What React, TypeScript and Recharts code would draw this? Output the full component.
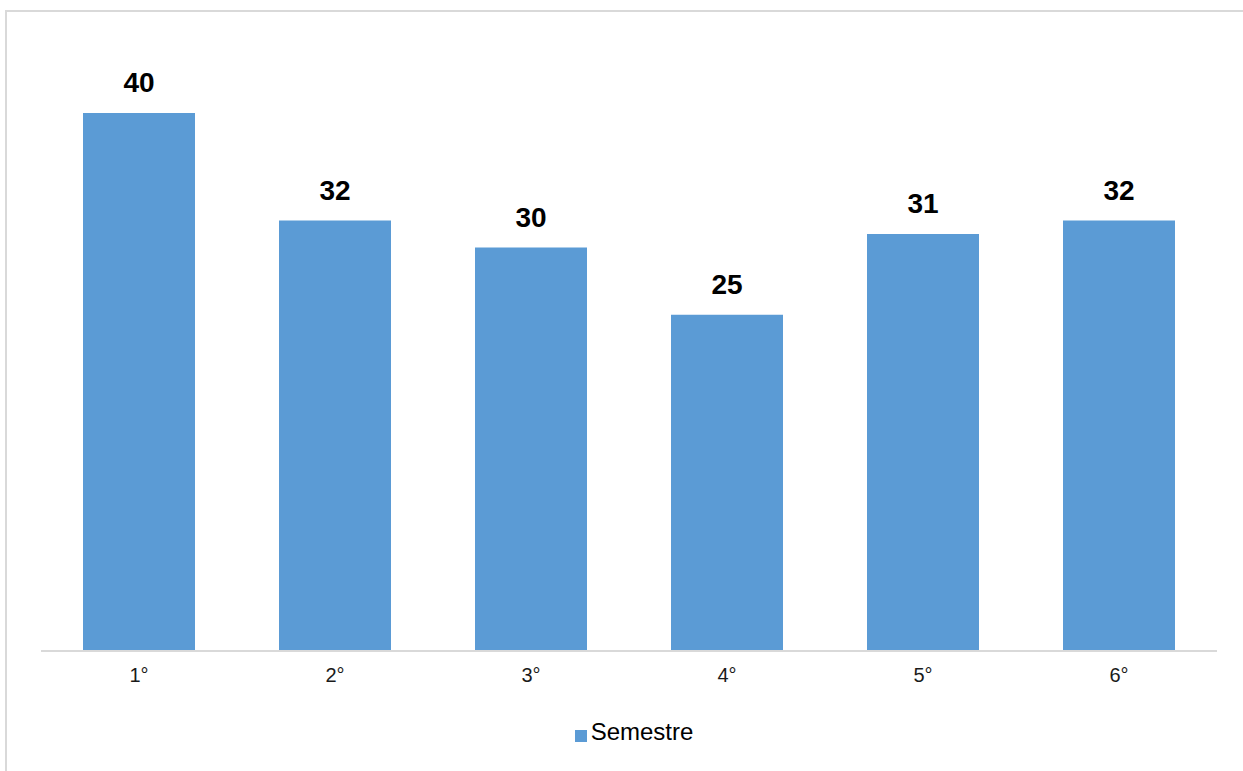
import { BarChart, Bar, XAxis, YAxis, Legend, LabelList } from "recharts";

const semesters = ["1°", "2°", "3°", "4°", "5°", "6°"];
const counts = [40, 32, 30, 25, 31, 32];

const rows = semesters.map((s, i) => ({ semester: s, Semestre: counts[i] }));

const FONT = '"Liberation Sans", Arial, sans-serif';

function SemesterTick(props: any) {
  const { x, y, payload } = props;
  return (
    <text
      x={x}
      y={y + 25}
      textAnchor="middle"
      fill="#1a1a1a"
      fontSize={20}
      fontFamily={FONT}
    >
      {payload.value}
    </text>
  );
}

export default function App() {
  return (
    <div
      style={{
        position: "fixed",
        left: 0,
        top: 0,
        width: 1243,
        height: 771,
        overflow: "hidden",
        background: "#fff",
        fontFamily: FONT,
      }}
    >
      <div
        style={{
          position: "absolute",
          left: 5,
          top: 10,
          width: 1300,
          height: 900,
          border: "2px solid #d9d9d9",
        }}
      />
      <div style={{ position: "absolute", left: 0, top: 0 }}>
        <BarChart
          width={1243}
          height={771}
          data={rows}
          margin={{ top: 113, right: 26, left: 41, bottom: 90 }}
          barSize={112}
          style={{ fontFamily: FONT }}
        >
          <YAxis hide domain={[0, 40]} />
          <XAxis
            dataKey="semester"
            height={30}
            axisLine={{ stroke: "#d9d9d9", strokeWidth: 2 }}
            tickLine={false}
            tickMargin={0}
            tick={<SemesterTick />}
          />
          <Legend
            layout="horizontal"
            verticalAlign="middle"
            align="center"
            iconType="square"
            iconSize={12}
            wrapperStyle={{ top: 718, left: 0, width: 1278 }}
            formatter={(v) => (
              <span style={{ color: "#000", fontSize: 24 }}>{v}</span>
            )}
          />
          <Bar dataKey="Semestre" fill="#5b9bd5" isAnimationActive={false}>
            <LabelList
              dataKey="Semestre"
              position="top"
              offset={21}
              style={{ fill: "#000", fontSize: 28, fontWeight: "bold" }}
            />
          </Bar>
        </BarChart>
      </div>
    </div>
  );
}
